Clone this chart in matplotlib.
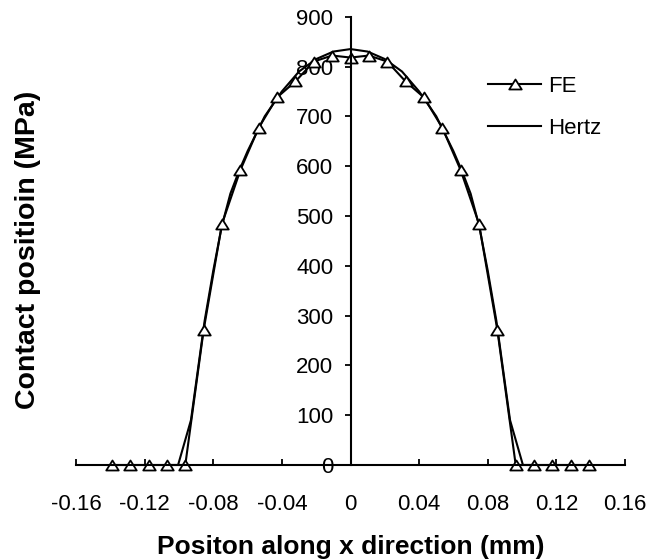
import matplotlib
matplotlib.use("Agg")
import matplotlib.pyplot as plt
from matplotlib.path import Path

plt.rcParams['font.family'] = ['Liberation Sans', 'DejaVu Sans']

# FE results
fe_x = [-0.1391, -0.1284, -0.1177, -0.107, -0.0963, -0.0856, -0.0749, -0.0642,
        -0.0535, -0.0428, -0.0321, -0.0214, -0.0107, 0.0,
        0.0107, 0.0214, 0.0321, 0.0428, 0.0535, 0.0642, 0.0749, 0.0856,
        0.0963, 0.107, 0.1177, 0.1284, 0.1391]
fe_y = [0, 0, 0, 0, 0, 271, 484, 592, 677, 738, 770, 810, 822, 818,
        822, 810, 770, 738, 677, 592, 484, 271, 0, 0, 0, 0, 0]

# Hertz solution
hertz_x = [-0.105, -0.1005, -0.093, -0.085, -0.08, -0.075, -0.07, -0.065, -0.06,
           -0.05, -0.04, -0.03, -0.02, -0.01, 0.0, 0.01, 0.02, 0.03, 0.04, 0.05,
           0.06, 0.065, 0.07, 0.075, 0.08, 0.085, 0.093, 0.1005, 0.105]
hertz_y = [0, 0, 90, 290, 390, 480, 545, 590, 630, 700, 750, 790, 815, 830, 835,
           830, 815, 790, 750, 700, 630, 590, 545, 480, 390, 290, 90, 0, 0]

x_ticks = [-0.16, -0.12, -0.08, -0.04, 0.0, 0.04, 0.08, 0.12, 0.16]
x_tick_labels = ["-0.16", "-0.12", "-0.08", "-0.04", "0", "0.04", "0.08", "0.12", "0.16"]
y_ticks = [0, 100, 200, 300, 400, 500, 600, 700, 800, 900]

fig = plt.figure(figsize=(6.5, 5.6), dpi=100)
ax = fig.add_axes([76 / 650, 1 - 465 / 560, 549 / 650, 448.3 / 560])

tri = Path([(0, 0.8), (-1, -0.8), (1, -0.8), (0, 0.8)],
           [Path.MOVETO, Path.LINETO, Path.LINETO, Path.CLOSEPOLY])

ax.plot(fe_x, fe_y, color='black', lw=1.5, marker=tri, markersize=9,
        markerfacecolor='white', markeredgecolor='black', markeredgewidth=1.3,
        label='FE', clip_on=False, zorder=3)
ax.plot(hertz_x, hertz_y, color='black', lw=1.5, label='Hertz', zorder=2.9)

ax.set_xlim(-0.16, 0.16)
ax.set_ylim(0, 900)
ax.set_xticks(x_ticks)
ax.set_xticklabels(x_tick_labels)
ax.set_yticks(y_ticks)

for s in ['top', 'right']:
    ax.spines[s].set_visible(False)
ax.spines['left'].set_position(('data', 0))
for s in ['left', 'bottom']:
    ax.spines[s].set_linewidth(1.5)
    ax.spines[s].set_zorder(4)

ax.tick_params(axis='x', direction='in', length=4, width=1.3, pad=21, labelsize=16)
ax.tick_params(axis='y', direction='out', length=4, width=1.3, pad=8.5, labelsize=16)

ax.set_xlabel('Positon along x direction (mm)', fontsize=19, fontweight='bold', labelpad=14)
ax.set_ylabel('Contact positioin (MPa)', fontsize=20.5, fontweight='bold')
ax.yaxis.set_label_coords(-0.0645, 0.48)

ax.legend(loc='upper left', bbox_to_anchor=(0.7505, 0.868), borderaxespad=0,
          frameon=False, fontsize=16, handlelength=2.39, handletextpad=0.32,
          labelspacing=0.95, borderpad=0, numpoints=1)

fig.savefig('out.png', dpi=100)
